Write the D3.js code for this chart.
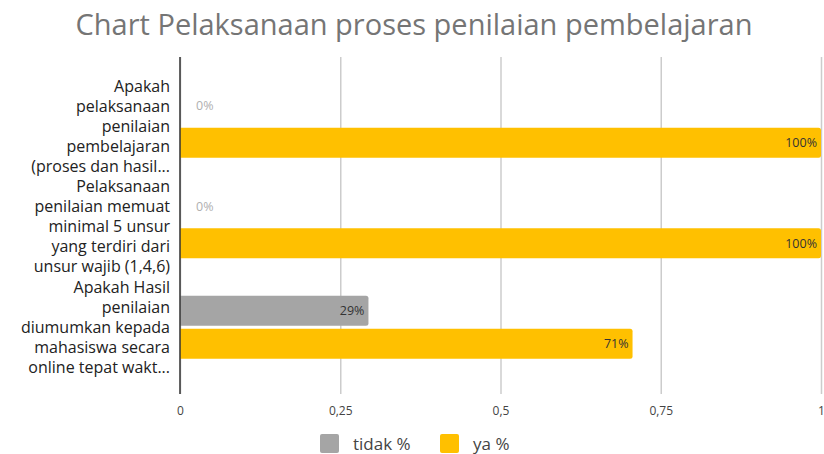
<!DOCTYPE html>
<html>
<head>
<meta charset="utf-8">
<script src="https://cdn.jsdelivr.net/npm/d3@7"></script>
<style>
  body { margin: 0; background: #fff; }
  svg { font-family: "Open Sans", sans-serif; display: block; }
</style>
</head>
<body>
<svg id="chart"></svg>
<script>
const title = 'Chart Pelaksanaan proses penilaian pembelajaran';
const categories = [
  ['Apakah', 'pelaksanaan', 'penilaian', 'pembelajaran', '(proses dan hasil...'],
  ['Pelaksanaan', 'penilaian memuat', 'minimal 5 unsur', 'yang terdiri dari', 'unsur wajib (1,4,6)'],
  ['Apakah Hasil', 'penilaian', 'diumumkan kepada', 'mahasiswa secara', 'online tepat wakt...']
];
const seriesNames = ['tidak %', 'ya %'];
const tidakValues = [0, 0, 0.294];
const yaValues = [1, 1, 0.706];
const xTicks = [0, 0.25, 0.5, 0.75, 1];
const xTickLabels = ['0', '0,25', '0,5', '0,75', '1'];
const colors = ['#a5a5a5', '#ffc000'];

const w = 824;
const h = 454;
const plotLeft = 180, plotRight = 821, plotTop = 57, plotBottom = 394;

const svg = d3.select('#chart')
  .attr('width', w)
  .attr('height', h);

const xScale = d3.scaleLinear()
  .domain([0, 1])
  .range([plotLeft, plotRight]);

const y0 = d3.scaleBand()
  .domain(d3.range(categories.length))
  .range([76, 377.5]);

const y1 = d3.scaleBand()
  .domain(seriesNames)
  .range([0, y0.bandwidth()])
  .paddingInner(0.09)
  .paddingOuter(0.57);

const color = d3.scaleOrdinal().domain(seriesNames).range(colors);

// title
svg.append('text')
  .attr('x', 414)
  .attr('y', 35)
  .attr('text-anchor', 'middle')
  .attr('font-size', 29)
  .attr('fill', '#757575')
  .text(title);

// gridlines
const xAxis = d3.axisBottom(xScale)
  .tickValues(xTicks)
  .tickFormat((d, i) => xTickLabels[i])
  .tickSize(-(plotBottom - plotTop))
  .tickPadding(12);

const gx = svg.append('g')
  .attr('transform', `translate(0, ${plotBottom})`)
  .call(xAxis);
gx.select('.domain').remove();
gx.selectAll('.tick line').attr('stroke', '#cccccc').attr('stroke-width', 1.5);
gx.selectAll('.tick text')
  .attr('font-size', 12)
  .attr('fill', '#444')
  .attr('font-family', '"Open Sans", sans-serif');

// bars
const rows = categories.map((c, i) => ({ i, values: [tidakValues[i], yaValues[i]] }));

function barPath(x0, x1, y, hgt, r) {
  const wd = x1 - x0;
  if (wd <= 0) return '';
  r = Math.min(r, wd);
  return `M${x0},${y}H${x1 - r}Q${x1},${y} ${x1},${y + r}V${y + hgt - r}Q${x1},${y + hgt} ${x1 - r},${y + hgt}H${x0}Z`;
}

const groups = svg.selectAll('g.cat')
  .data(rows)
  .enter()
  .append('g')
  .attr('class', 'cat')
  .attr('transform', d => `translate(0, ${y0(d.i)})`);

groups.selectAll('path')
  .data(d => d.values.map((v, k) => ({ key: seriesNames[k], v })))
  .enter()
  .append('path')
  .attr('d', d => barPath(xScale(0), xScale(d.v), y1(d.key), y1.bandwidth(), 2.5))
  .attr('fill', d => color(d.key));

groups.selectAll('text.lbl')
  .data(d => d.values.map((v, k) => ({ key: seriesNames[k], v })))
  .enter()
  .append('text')
  .attr('class', 'lbl')
  .attr('x', d => d.v > 0 ? xScale(d.v) - 4 : xScale(0) + 16)
  .attr('y', d => d.v > 0 ? y1(d.key) + y1.bandwidth() / 2 : y1(d.key) + y1.bandwidth() / 2 - 4)
  .attr('dy', '0.35em')
  .attr('text-anchor', d => d.v > 0 ? 'end' : 'start')
  .attr('font-size', 12.5)
  .attr('fill', d => d.v > 0 ? '#333' : '#b0b0b0')
  .text(d => Math.round(d.v * 100) + '%');

// zero axis line
svg.append('line')
  .attr('x1', xScale(0)).attr('x2', xScale(0))
  .attr('y1', plotTop).attr('y2', plotBottom)
  .attr('stroke', '#333')
  .attr('stroke-width', 1.5);

// category labels
const lineH = 20;
categories.forEach((lines, i) => {
  const cy = y0(i) + y0.bandwidth() / 2;
  const t = svg.append('text')
    .attr('text-anchor', 'end')
    .attr('font-size', 16)
    .attr('fill', '#222');
  lines.forEach((ln, j) => {
    t.append('tspan')
      .attr('x', 170)
      .attr('y', cy + (j - (lines.length - 1) / 2) * lineH)
      .attr('dy', '0.35em')
      .text(ln);
  });
});

// legend
const legendX = [320, 440];
seriesNames.forEach((s, k) => {
  const g = svg.append('g').attr('transform', `translate(${legendX[k]}, 434)`);
  g.append('rect')
    .attr('width', 19).attr('height', 19).attr('rx', 2)
    .attr('fill', color(s));
  g.append('text')
    .attr('x', 33).attr('y', 10)
    .attr('dy', '0.35em')
    .attr('font-size', 17)
    .attr('fill', '#444')
    .text(s);
});
</script>
</body>
</html>
